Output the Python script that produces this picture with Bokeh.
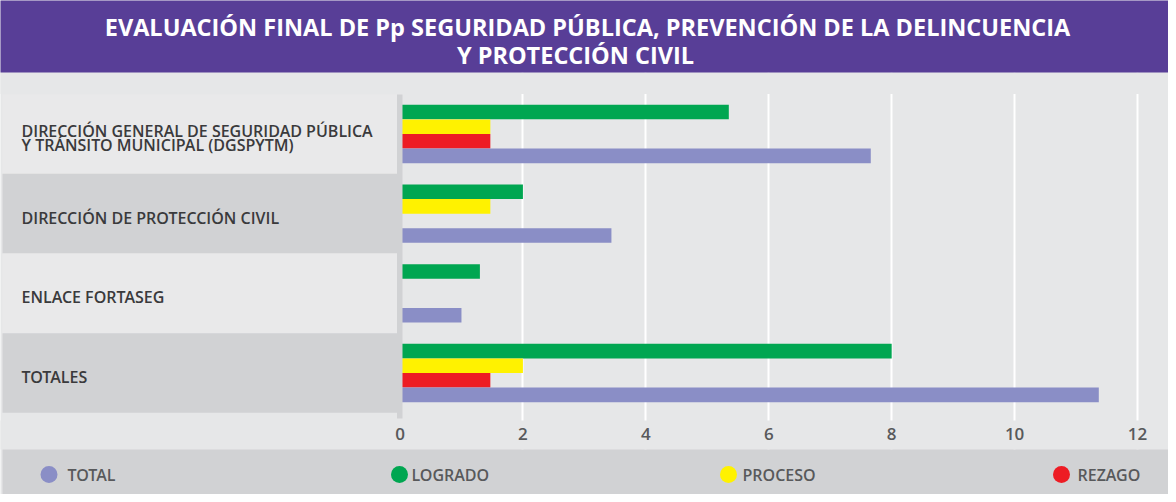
from bokeh.plotting import figure
from bokeh.models import ColumnDataSource, Range1d, LinearAxis, FixedTicker, Grid
from bokeh.transform import dodge
from bokeh.core.properties import value
from bokeh.embed import file_html
from bokeh.resources import INLINE

# ---------------- data ----------------
title_lines = ["EVALUACIÓN FINAL DE Pp SEGURIDAD PÚBLICA, PREVENCIÓN DE LA DELINCUENCIA",
               "Y PROTECCIÓN CIVIL"]
categories = ["DIRECCIÓN GENERAL DE SEGURIDAD PÚBLICA\nY TRÁNSITO MUNICIPAL (DGSPYTM)",
              "DIRECCIÓN DE PROTECCIÓN CIVIL",
              "ENLACE FORTASEG",
              "TOTALES"]
logrado = [5.35, 2.0, 1.3, 8.0]
proceso = [1.47, 1.47, 0, 2.0]
rezago = [1.47, 0, 0, 1.47]
total = [7.66, 3.44, 1.0, 11.37]
x_ticks = [0, 2, 4, 6, 8, 10, 12]
legend_labels = ["TOTAL", "LOGRADO", "PROCESO", "REZAGO"]

# ---------------- styles ----------------
PURPLE = "#583e97"
GREEN = "#00a651"
YELLOW = "#fff200"
RED = "#ed1c24"
LAV = "#8a8ec6"
BG = "#e6e7e8"
LIGHT = "#e9e9ea"
DARK = "#d1d2d4"
TEXT = "#3a3a3c"
GREYTXT = "#58595b"
SEMI = value("Open Sans SemiBold")

W, H = 1168, 494
OFFX, OFFY = 4, 5        # layout origin
X0, XS = 403.5, 61.46    # layout position of 0 and pixels per unit
Y0, YS = 377.5, 79.67    # layout position of last category and pixels per category


def sx(s):
    return (s - X0) / XS


def sy(s):
    return (Y0 - s) / YS


p = figure(width=W, height=H,
           x_range=Range1d(sx(OFFX), sx(OFFX + W)), y_range=Range1d(sy(OFFY + H), sy(OFFY)),
           x_axis_type=None, y_axis_type=None,
           output_backend="svg", toolbar_location=None, min_border=0,
           background_fill_color=BG, border_fill_color=BG, outline_line_color=None)

p.add_layout(Grid(dimension=0, ticker=FixedTicker(ticks=x_ticks[1:]),
                  grid_line_color="white", grid_line_width=2))

# cover strips (hide grid outside plotting band)
p.quad(left=sx(0), right=sx(1180), top=sy(77), bottom=sy(98.5), fill_color=BG, line_color=None)
p.quad(left=sx(0), right=sx(1180), top=sy(425), bottom=sy(454), fill_color=BG, line_color=None)

# title banner
p.quad(left=sx(0), right=sx(1180), top=sy(0), bottom=sy(77), fill_color=PURPLE, line_color=None)
p.text(x=[sx(591), sx(579)], y=[sy(31), sy(59)], text=title_lines,
       text_font=value("Open Sans"), text_font_style="bold", text_font_size="23.5px",
       text_color="white", text_align="center", text_baseline="middle")

# category panels
n = len(categories)
pos = [n - 1 - i for i in range(n)]
panel_colors = [LIGHT if i % 2 == 0 else DARK for i in range(n)]
p.quad(left=sx(6), right=sx(400.5), bottom=[v - 0.5 for v in pos], top=[v + 0.5 for v in pos],
       fill_color=panel_colors, line_color=None)
p.text(x=sx(25), y=[v - 0.05 for v in pos], text=categories,
       text_font=SEMI, text_font_size="16px", text_color=TEXT,
       text_align="left", text_baseline="middle", text_line_height=0.64)

# bars
src = ColumnDataSource(dict(pos=pos, logrado=logrado, proceso=proceso, rezago=rezago, total=total))
series = [("logrado", GREEN, 0.275), ("proceso", YELLOW, 0.0917),
          ("rezago", RED, -0.0917), ("total", LAV, -0.275)]
for key, col, off in series:
    p.hbar(y=dodge("pos", off, range=p.y_range), left=0, right=key, height=0.183,
           source=src, fill_color=col, line_color=None)

# vertical axis band
p.quad(left=sx(400.5), right=sx(406), top=sy(99), bottom=sy(423), fill_color=DARK, line_color=None)

# x axis
xaxis = LinearAxis(fixed_location=sy(424), ticker=FixedTicker(ticks=x_ticks),
                   axis_line_color=None, major_tick_line_color=None, minor_tick_line_color=None,
                   major_label_standoff=2, major_label_text_font="Open Sans SemiBold",
                   major_label_text_font_size="17px", major_label_text_color=GREYTXT)
p.add_layout(xaxis, "below")

# legend band
p.quad(left=sx(6), right=sx(1180), top=sy(454), bottom=sy(510), fill_color=DARK, line_color=None)
leg_cx = [52.5, 403, 732, 1065]
leg_tx = [71, 415, 746, 1081]
p.scatter(x=[sx(c) for c in leg_cx], y=sy(479), size=17, marker="circle",
          fill_color=[LAV, GREEN, YELLOW, RED], line_color=None)
p.text(x=[sx(t) for t in leg_tx], y=sy(479.5), text=legend_labels,
       text_font=SEMI, text_font_size="16px", text_color=GREYTXT,
       text_align="left", text_baseline="middle")

open("out.html", "w").write(file_html(p, INLINE))
